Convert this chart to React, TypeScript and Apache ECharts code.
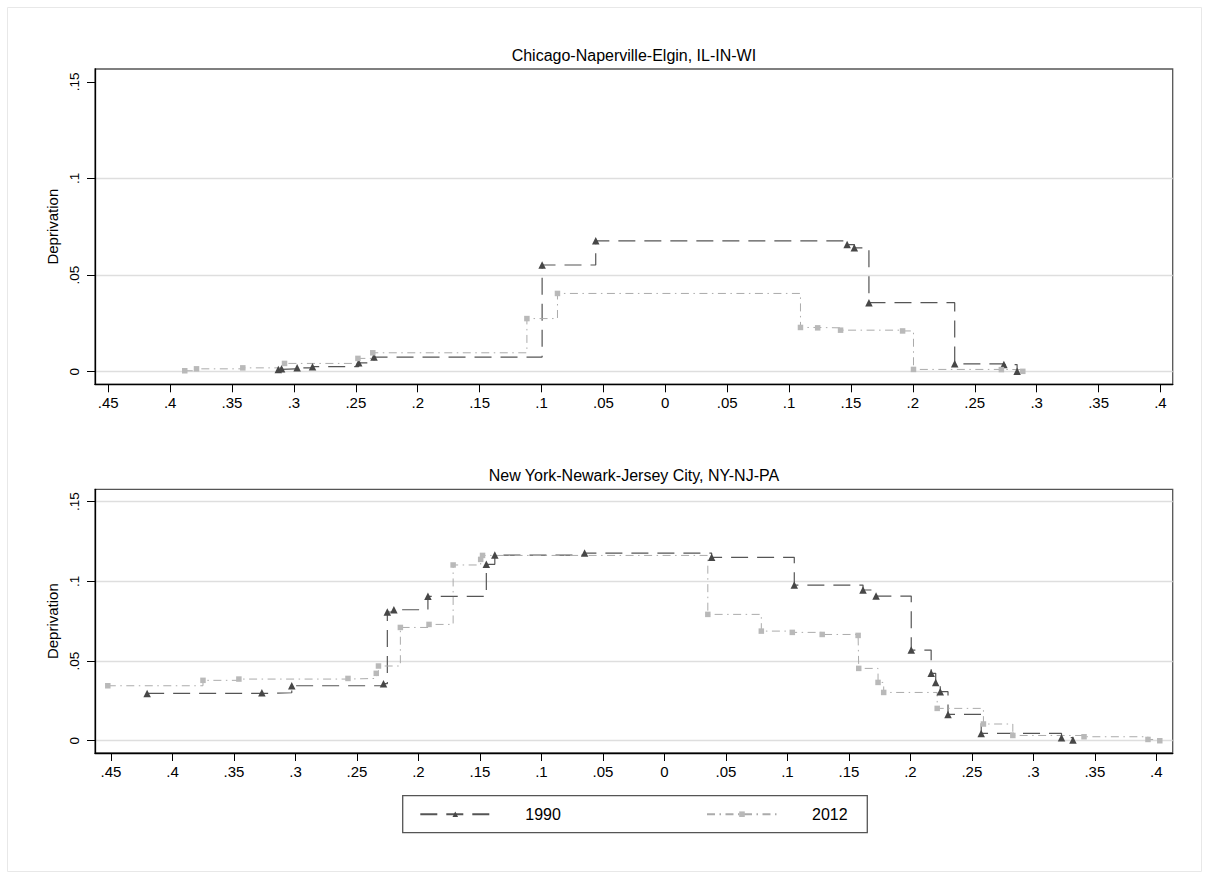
import React, { useEffect, useRef } from 'react';
import * as echarts from 'echarts';

const FONT = '"Liberation Sans", Arial, Helvetica, sans-serif';

// ---- Labels ----
const panelTitles = ['Chicago-Naperville-Elgin, IL-IN-WI', 'New York-Newark-Jersey City, NY-NJ-PA'];
const seriesNames = ['1990', '2012'];
const yAxisTitle = 'Deprivation';

// ---- Ticks ----
const xTicks = [-0.45, -0.4, -0.35, -0.3, -0.25, -0.2, -0.15, -0.1, -0.05, 0, 0.05, 0.1, 0.15, 0.2, 0.25, 0.3, 0.35, 0.4];
const yTicks = [0, 0.05, 0.1, 0.15];
const topGridValues = [0, 0.05, 0.1];
const bottomGridValues = [0, 0.05, 0.1, 0.15];

// ---- Axis ranges ----
const topXRange = [-0.4607, 0.4099];
const bottomXRange = [-0.463, 0.4133];
const topYRange = [-0.0065, 0.1566];
const bottomYRange = [-0.0077, 0.1578];

// ---- Data: Chicago ----
const chicago1990: [number, number][] = [
  [-0.3126, 0.0012], [-0.31, 0.0015], [-0.2974, 0.002], [-0.285, 0.0026],
  [-0.2477, 0.0046], [-0.2353, 0.0076], [-0.0995, 0.0552], [-0.0562, 0.0677],
  [0.1469, 0.0658], [0.1527, 0.0641], [0.1645, 0.0357], [0.2338, 0.0041],
  [0.2735, 0.0037], [0.2842, 0.0003],
];
const chicago2012: [number, number][] = [
  [-0.3882, 0.0005], [-0.3787, 0.0015], [-0.3413, 0.002], [-0.3076, 0.0043],
  [-0.2483, 0.0069], [-0.2363, 0.0098], [-0.1118, 0.0275], [-0.0871, 0.0405],
  [0.1092, 0.0229], [0.1231, 0.0227], [0.1416, 0.0215], [0.1917, 0.0211],
  [0.2005, 0.0012], [0.2715, 0.0011], [0.2888, 0.0002],
];

// ---- Data: New York ----
const newYork1990: [number, number][] = [
  [-0.4206, 0.0297], [-0.3273, 0.0301], [-0.303, 0.0345], [-0.2284, 0.0358],
  [-0.2253, 0.0808], [-0.22, 0.0822], [-0.1923, 0.0906], [-0.1448, 0.1107],
  [-0.1379, 0.1165], [-0.0649, 0.1178], [0.0384, 0.1151], [0.1056, 0.0977],
  [0.1615, 0.0946], [0.1721, 0.0908], [0.2007, 0.0569], [0.2169, 0.0423],
  [0.2206, 0.0366], [0.2243, 0.0308], [0.2306, 0.0165], [0.2576, 0.0046],
  [0.3229, 0.0019], [0.3322, 0.0004],
];
const newYork2012: [number, number][] = [
  [-0.4526, 0.0345], [-0.3752, 0.0379], [-0.346, 0.0387], [-0.2573, 0.0391],
  [-0.2343, 0.0423], [-0.2325, 0.0469], [-0.2147, 0.0711], [-0.1914, 0.073],
  [-0.1718, 0.1103], [-0.1494, 0.1138], [-0.1479, 0.1163], [0.0353, 0.0793],
  [0.0788, 0.0688], [0.104, 0.068], [0.1283, 0.0667], [0.1575, 0.0661],
  [0.158, 0.0454], [0.1737, 0.0366], [0.1783, 0.0303], [0.2218, 0.0203],
  [0.2594, 0.0105], [0.2833, 0.0033], [0.3412, 0.0025], [0.3932, 0.0008],
  [0.4028, 0.0],
];

const fmt = (v: number) => {
  const a = Math.abs(v);
  if (a < 1e-9) return '0';
  return String(parseFloat(a.toFixed(2))).replace(/^0\./, '.');
};

const style1990 = {
  symbol: 'triangle',
  symbolSize: 7.5,
  lineStyle: { color: '#555555', width: 1.2, type: [17, 9] },
  itemStyle: { color: '#474747', borderWidth: 0 },
};
const style2012 = {
  symbol: 'rect',
  symbolSize: 5.5,
  lineStyle: { color: '#ababab', width: 1, type: [8, 4.5, 1.5, 4.5] },
  itemStyle: { color: '#b9b9b9', borderWidth: 0 },
};

export default function App() {
  const ref = useRef<HTMLDivElement>(null);

  useEffect(() => {
    document.body.style.margin = '0';
    if (!ref.current) return;
    const chart = echarts.init(ref.current, undefined, { renderer: 'svg' });

    const gridBoxes = [
      { left: 95, top: 69, width: 1077.7, height: 315.3 },
      { left: 95, top: 489.3, width: 1077.7, height: 263.7 },
    ];
    const xRanges = [topXRange, bottomXRange];
    const yRanges = [topYRange, bottomYRange];
    const gridValues = [topGridValues, bottomGridValues];
    const titleTops = [47, 467.5];

    const makeSeries = (name: string, data: [number, number][], idx: number, st: any) => ({
      name,
      type: 'line',
      xAxisIndex: idx,
      yAxisIndex: idx,
      data,
      step: 'end',
      showSymbol: true,
      silent: true,
      emphasis: { disabled: true },
      animation: false,
      ...st,
    });

    const option: any = {
      animation: false,
      backgroundColor: '#ffffff',
      textStyle: { fontFamily: FONT },
      graphic: [
        {
          type: 'rect',
          silent: true,
          z: -10,
          shape: { x: 7.5, y: 7.5, width: 1194, height: 864 },
          style: { fill: 'transparent', stroke: '#e8e8e8', lineWidth: 1 },
        },
      ],
      title: panelTitles.map((t, i) => ({
        text: t,
        left: 633.9,
        top: titleTops[i],
        textAlign: 'center',
        padding: 0,
        textStyle: { fontSize: 16, fontWeight: 'normal', color: '#000', fontFamily: FONT, lineHeight: 16 },
      })),
      legend: {
        show: true,
        left: 402.7,
        top: 795.7,
        orient: 'horizontal',
        itemWidth: 70,
        itemHeight: 7,
        itemGap: 145.1,
        padding: [10.5, 19.7, 10.5, 16.6],
        borderColor: '#555555',
        borderWidth: 1.3,
        borderRadius: 0,
        backgroundColor: 'transparent',
        selectedMode: false,
        textStyle: { fontSize: 16, color: '#000', fontFamily: FONT, lineHeight: 16, padding: [0, 0, 0, 30] },
        data: seriesNames,
      },
      grid: gridBoxes.map((g) => ({
        ...g,
        show: true,
        borderColor: '#555555',
        borderWidth: 1.3,
        backgroundColor: 'transparent',
        containLabel: false,
        outerBoundsMode: 'none',
      })),
      xAxis: [0, 1].map((i) => ({
        gridIndex: i,
        type: 'value',
        min: xRanges[i][0],
        max: xRanges[i][1],
        axisLine: { show: true, onZero: false, lineStyle: { color: '#000', width: 1.3 } },
        axisTick: { show: true, inside: false, length: 8, customValues: xTicks, lineStyle: { color: '#000', width: 1 } },
        axisLabel: { show: true, customValues: xTicks, formatter: fmt, margin: 10.5, fontSize: 15, color: '#000', fontFamily: FONT },
        splitLine: { show: false },
      })),
      yAxis: [
        ...[0, 1].map((i) => ({
          gridIndex: i,
          type: 'value',
          position: 'left',
          min: yRanges[i][0],
          max: yRanges[i][1],
          name: yAxisTitle,
          nameLocation: 'middle',
          nameGap: 30,
          nameRotate: 90,
          nameTextStyle: { fontSize: 15, color: '#000', fontFamily: FONT, lineHeight: 15 },
          axisLine: { show: true, onZero: false, lineStyle: { color: '#000', width: 1.3 } },
          axisTick: { show: true, inside: false, length: 8, customValues: yTicks, lineStyle: { color: '#000', width: 1 } },
          axisLabel: { show: true, customValues: yTicks, formatter: fmt, rotate: 90, margin: 13.5, fontSize: 13.5, color: '#000', fontFamily: FONT },
          splitLine: { show: false },
        })),
        ...[0, 1].map((i) => ({
          gridIndex: i,
          type: 'value',
          position: 'left',
          min: yRanges[i][0],
          max: yRanges[i][1],
          axisLine: { show: false },
          axisTick: { show: false, customValues: gridValues[i] },
          axisLabel: { show: false, customValues: gridValues[i] },
          splitLine: { show: true, lineStyle: { color: '#dedede', width: 1.4, type: 'solid' } },
        })),
      ],
      series: [
        makeSeries(seriesNames[0], chicago1990, 0, style1990),
        makeSeries(seriesNames[1], chicago2012, 0, style2012),
        makeSeries(seriesNames[0], newYork1990, 1, style1990),
        makeSeries(seriesNames[1], newYork2012, 1, style2012),
      ],
    };

    chart.setOption(option);
    return () => {
      chart.dispose();
    };
  }, []);

  return <div ref={ref} style={{ width: 1209, height: 879, background: '#fff' }} />;
}
